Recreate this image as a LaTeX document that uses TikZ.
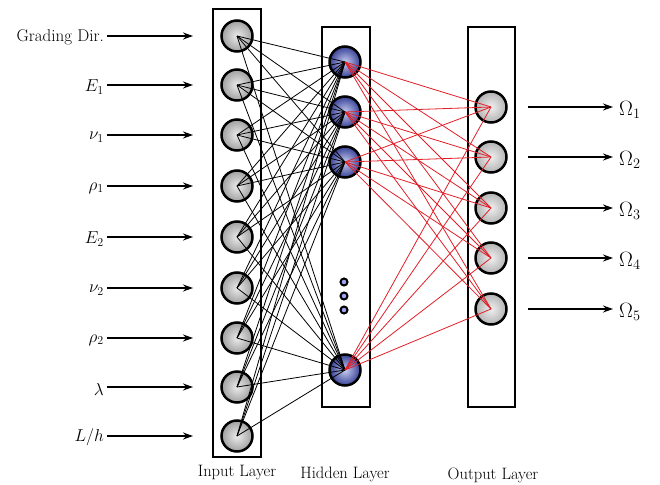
\documentclass[tikz,border=0pt]{standalone}
\usepackage{fontspec}
\usetikzlibrary{arrows.meta,shadings}
\definecolor{redline}{RGB}{225,30,40}
\definecolor{bluedark}{RGB}{55,65,150}
\definecolor{bluelight}{RGB}{200,205,240}
\tikzset{
  layerbox/.style={draw=black,line width=2.8pt},
  inneuron/.style={circle,draw=black,line width=2.5pt,minimum size=31pt,inner sep=0pt,
    shading=radial,inner color=gray!15,outer color=gray!75},
  outneuron/.style={circle,draw=black,line width=2.5pt,minimum size=31pt,inner sep=0pt,
    shading=radial,inner color=gray!12,outer color=gray!60},
  hidneuron/.style={circle,draw=black,line width=2.5pt,minimum size=31pt,inner sep=0pt,
    shading=radial,inner color=bluelight,outer color=bluedark},
  dotneuron/.style={circle,draw=black,line width=2pt,minimum size=7pt,inner sep=0pt,fill=bluelight!80!blue},
  inarrow/.style={line width=1.6pt,-{Stealth[length=10pt,width=7pt]}},
  blackedge/.style={line width=0.8pt,black},
  rededge/.style={line width=0.8pt,redline},
  inlabel/.style={anchor=east,inner sep=0pt,font=\fontsize{17}{19}\selectfont},
  outlabel/.style={anchor=west,inner sep=0pt,font=\fontsize{20}{22}\selectfont},
  laylabel/.style={inner sep=0pt,font=\fontsize{16.5}{18}\selectfont}
}
\begin{document}
\begin{tikzpicture}[x=1pt,y=-1pt]
\useasboundingbox (0,0) rectangle (660,484);
% layer boxes
\draw[layerbox] (213,9) rectangle (261,457);
\draw[layerbox] (322,27) rectangle (370,407);
\draw[layerbox] (468,27) rectangle (515,407);
% input neurons
\foreach \i/\y in {1/36,2/85,3/135,4/186,5/237,6/288,7/338,8/387,9/436}{
  \node[inneuron] (in\i) at (237,\y) {};
  \coordinate (tip\i) at (193,\y);
  \coordinate (as\i) at (107,\y);
  \draw[inarrow] (as\i) -- (tip\i);
}
% hidden neurons
\foreach \i/\y in {1/62,2/112,3/162,4/370}{
  \node[hidneuron] (h\i) at (345,\y) {};
}
\node[dotneuron] (d1) at (344,282) {};
\node[dotneuron] (d2) at (344,296) {};
\node[dotneuron] (d3) at (344,310) {};
% output neurons
\foreach \i/\y in {1/107,2/157,3/208,4/258,5/309}{
  \node[outneuron] (o\i) at (491,\y) {};
  \coordinate (os\i) at (528,\y);
  \coordinate (oe\i) at (613,\y);
  \node[outlabel] (ol\i) at (619,\y+3) {$\Omega_{\i}$};
  \draw[inarrow] (os\i) -- (oe\i);
}
% connections
\foreach \i in {1,...,9}{
  \foreach \j in {1,...,4}{
    \draw[blackedge] (in\i.center) -- (h\j.center);
  }
}
\foreach \j in {1,...,4}{
  \foreach \k in {1,...,5}{
    \draw[rededge] (h\j.center) -- (o\k.center);
  }
}
% input labels
\node[inlabel] (l1) at (104,37) {Grading Dir.};
\node[inlabel] (l2) at (104,87) {$E_1$};
\node[inlabel] (l3) at (104,137) {$\nu_1$};
\node[inlabel] (l4) at (104,188) {$\rho_1$};
\node[inlabel] (l5) at (104,239) {$E_2$};
\node[inlabel] (l6) at (104,290) {$\nu_2$};
\node[inlabel] (l7) at (104,340) {$\rho_2$};
\node[inlabel] (l8) at (104,389) {$\lambda$};
\node[inlabel] (l9) at (104,437) {$L/h$};
% layer labels
\node[laylabel] (t1) at (237,473) {Input Layer};
\node[laylabel] (t2) at (345,474) {Hidden Layer};
\node[laylabel] (t3) at (493,475) {Output Layer};
\end{tikzpicture}
\end{document}
